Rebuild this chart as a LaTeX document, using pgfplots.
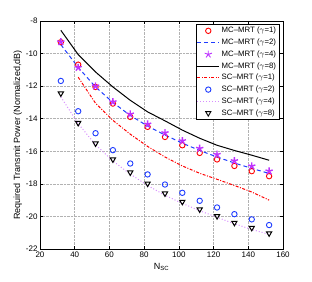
\documentclass[border=0pt]{standalone}
\usepackage{pgfplots}
\pgfplotsset{compat=1.18}
\usepackage{fontspec}
\setmainfont{Liberation Sans}
\definecolor{mred}{RGB}{255,0,0}
\definecolor{mblue}{RGB}{30,60,255}
\definecolor{mviolet}{RGB}{190,50,255}
\definecolor{lviolet}{RGB}{215,140,255}
\begin{document}
\begin{tikzpicture}
\useasboundingbox (-40pt,-32pt) rectangle (272pt,249pt);
\begin{axis}[
  at={(0,0)}, anchor=south west,
  scale only axis, width=243pt, height=228pt,
  xmin=20, xmax=160, ymin=-22, ymax=-8,
  xtick={20,40,...,160}, ytick={-22,-20,...,-8},
  tick align=inside, major tick length=3pt,
  grid=major, grid style={densely dotted, gray!60, line width=0.5pt},
  axis line style={line width=0.7pt},
  tick style={black, line width=0.5pt},
  /pgf/number format/assume math mode=true,
  ticklabel style={font=\fontsize{8}{9}\selectfont},
  xticklabel style={yshift=1pt},
  yticklabel style={xshift=1pt},
  xlabel={N\textsubscript{SC}}, ylabel={Required Transmit Power (Normalized,dB)},
  label style={font=\fontsize{9}{11}\selectfont},
  xlabel style={yshift=1pt},
  ylabel style={yshift=-3pt},
  legend style={at={(0.985,0.987)}, anchor=north east, font=\fontsize{7.8}{8.5}\selectfont,
    draw=black, line width=0.6pt, inner sep=1pt, row sep=0.6pt,
    cells={anchor=west}},
  legend image code/.code={\draw[mark repeat=2,mark phase=2,#1] plot coordinates {(0pt,0pt)(11pt,0pt)(22pt,0pt)};},
  legend image post style={line width=0.9pt},
]
\addplot[only marks, mark=o, mark size=2.7pt, draw=mred, line width=0.9pt] coordinates {
(32,-9.3)(42,-10.68)(52,-12.05)(62,-13.07)(72,-13.89)(82,-14.5)(92,-15.12)(102,-15.63)(112,-16.1)(122,-16.5)(132,-16.9)(142,-17.22)(152,-17.53)};
\addlegendentry{MC--MRT ($\gamma$=1)}
\addplot[mblue, line width=1pt, dash pattern=on 4pt off 3pt] coordinates {
(32,-9.45)(42,-10.85)(52,-12.05)(62,-13.0)(72,-13.8)(82,-14.45)(92,-15.0)(102,-15.5)(112,-15.95)(122,-16.35)(132,-16.72)(142,-17.05)(152,-17.36)};
\addlegendentry{MC--MRT ($\gamma$=2)}
\addplot[only marks, mark=star, mark size=3.8pt, draw=mviolet, line width=1.4pt] coordinates {
(32,-9.29)(42,-10.86)(52,-12.0)(62,-12.97)(72,-13.72)(82,-14.34)(92,-14.87)(102,-15.36)(112,-15.83)(122,-16.2)(132,-16.59)(142,-16.91)(152,-17.22)};
\addlegendentry{MC--MRT ($\gamma$=4)}
\addplot[black, line width=1pt] coordinates {
(32,-8.57)(42,-10.06)(52,-11.13)(62,-12.05)(72,-12.87)(82,-13.58)(92,-14.13)(102,-14.7)(112,-15.2)(122,-15.63)(132,-15.95)(142,-16.24)(152,-16.55)};
\addlegendentry{MC--MRT ($\gamma$=8)}
\addplot[mred, line width=1pt, dash pattern=on 3pt off 1.5pt on 1pt off 1.5pt] coordinates {
(42,-11.45)(52,-13.05)(62,-14.1)(72,-14.95)(82,-15.7)(92,-16.35)(102,-16.9)(112,-17.35)(122,-17.72)(132,-18.1)(142,-18.5)(152,-19.0)};
\addlegendentry{SC--MRT ($\gamma$=1)}
\addplot[only marks, mark=o, mark size=2.7pt, draw=mblue, line width=0.9pt] coordinates {
(32,-11.68)(42,-13.54)(52,-14.89)(62,-15.93)(72,-16.75)(82,-17.42)(92,-18.04)(102,-18.55)(112,-19.04)(122,-19.45)(132,-19.86)(142,-20.18)(152,-20.53)};
\addlegendentry{SC--MRT ($\gamma$=2)}
\addplot[lviolet, line width=1pt, dotted] coordinates {
(32,-12.66)(42,-14.3)(52,-15.6)(62,-16.6)(72,-17.4)(82,-18.1)(92,-18.7)(102,-19.2)(112,-19.65)(122,-20.05)(132,-20.45)(142,-20.8)(152,-21.1)};
\addlegendentry{SC--MRT ($\gamma$=4)}
\addplot[only marks, mark=triangle, mark size=3pt, draw=black, line width=1pt, every mark/.append style={rotate=180}] coordinates {
(32,-12.45)(42,-14.26)(52,-15.52)(62,-16.5)(72,-17.3)(82,-17.98)(92,-18.59)(102,-19.1)(112,-19.57)(122,-19.98)(132,-20.39)(142,-20.7)(152,-21.04)};
\addlegendentry{SC--MRT ($\gamma$=8)}
\end{axis}
\end{tikzpicture}
\end{document}
